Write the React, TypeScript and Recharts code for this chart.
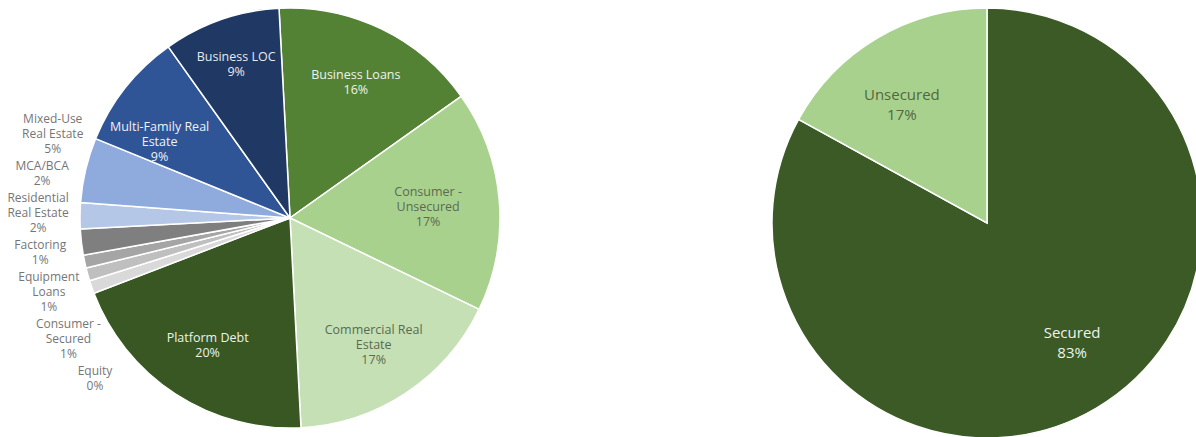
import React from 'react';
import { PieChart, Pie, Cell } from 'recharts';

// clockwise from 12 o'clock
const categories = [
  'Business Loans',
  'Consumer - Unsecured',
  'Commercial Real Estate',
  'Platform Debt',
  'Equity',
  'Consumer - Secured',
  'Equipment Loans',
  'Factoring',
  'Residential Real Estate',
  'MCA/BCA',
  'Mixed-Use Real Estate',
  'Multi-Family Real Estate',
  'Business LOC',
];
const shares = [16, 17, 17, 20, 0, 1, 1, 1, 2, 2, 5, 9, 9];
const labelLines = [
  ['Business Loans'],
  ['Consumer -', 'Unsecured'],
  ['Commercial Real', 'Estate'],
  ['Platform Debt'],
  ['Equity'],
  ['Consumer -', 'Secured'],
  ['Equipment', 'Loans'],
  ['Factoring'],
  ['Residential', 'Real Estate'],
  ['MCA/BCA'],
  ['Mixed-Use', 'Real Estate'],
  ['Multi-Family Real', 'Estate'],
  ['Business LOC'],
];

const securityTypes = ['Secured', 'Unsecured'];
const securityShares = [83, 17];

const mixColors = [
  '#548235', '#a9d18e', '#c5e0b4', '#385723',
  '#ededed', '#d9d9d9', '#bfbfbf', '#a5a5a5', '#7f7f7f',
  '#b4c7e7', '#8faadc', '#2f5597', '#1f3864',
];
const mixText = [
  '#eef3ea', '#5a6b52', '#5a6b52', '#eef3ea',
  '', '', '', '', '', '', '', '#eef1f6', '#e6eaf2',
];
const securityColors = ['#3b5a25', '#a9d18e'];
const securityText = ['#eef3ea', '#50683f'];

const FONT = '"Open Sans", Lato, sans-serif';
const RAD = Math.PI / 180;
const LH = 15;

const mixData = categories.map((name, i) => ({ name, value: shares[i] }));
const securityData = securityTypes.map((name, i) => ({ name, value: securityShares[i] }));

// label placement tweaks (radius fraction, angle shift in degrees)
const insideTweak: Record<number, { r?: number; da?: number }> = {
  1: { r: 0.66 },
  11: { da: 8 },
  12: { r: 0.78 },
};

// small slices (Equity .. Mixed-Use) get labels stacked outside on the left
const FIRST_OUT = 4;
const LAST_OUT = 10;

function outsideY(cy: number, outerRadius: number, index: number) {
  let y = cy + outerRadius * 1.2 * Math.sin(39.3 * RAD);
  for (let i = FIRST_OUT + 1; i <= index; i++) {
    const prev = labelLines[i - 1].length + 1;
    const cur = labelLines[i].length + 1;
    y -= ((prev + cur) * LH) / 2 + 2;
  }
  return y;
}

function MultiLine({ x, y, lines, fill, size, lh }: { x: number; y: number; lines: string[]; fill: string; size: number; lh: number }) {
  const top = y - ((lines.length - 1) * lh) / 2;
  return (
    <text x={x} y={top} fill={fill} fontSize={size} fontFamily={FONT} textAnchor="middle" dominantBaseline="central">
      {lines.map((t, i) => (
        <tspan key={i} x={x} y={top + i * lh}>
          {t}
        </tspan>
      ))}
    </text>
  );
}

const renderMixLabel = (p: any) => {
  const { cx, cy, midAngle, outerRadius, index } = p;
  const lines = [...labelLines[index], `${shares[index]}%`];
  if (index >= FIRST_OUT && index <= LAST_OUT) {
    const R = outerRadius * 1.2;
    const y = outsideY(cy, outerRadius, index);
    const dy = Math.min(Math.abs(y - cy), R - 1);
    const x = cx - Math.sqrt(R * R - dy * dy);
    return <MultiLine key={index} x={x} y={y} lines={lines} fill="#767676" size={12} lh={LH} />;
  }
  const tw = insideTweak[index] || {};
  const a = (midAngle + (tw.da || 0)) * RAD;
  const r = outerRadius * (tw.r || 0.72);
  const x = cx + r * Math.cos(-a);
  const y = cy + r * Math.sin(-a);
  return <MultiLine key={index} x={x} y={y} lines={lines} fill={mixText[index]} size={12.5} lh={LH} />;
};

const renderSecurityLabel = (p: any) => {
  const { cx, cy, midAngle, outerRadius, index } = p;
  const a = (midAngle + 5) * RAD;
  const r = outerRadius * 0.68;
  const x = cx + r * Math.cos(-a);
  const y = cy + r * Math.sin(-a);
  return (
    <MultiLine
      key={index}
      x={x}
      y={y}
      lines={[securityTypes[index], `${securityShares[index]}%`]}
      fill={securityText[index]}
      size={15}
      lh={20}
    />
  );
};

export default function App() {
  return (
    <div style={{ position: 'absolute', left: 0, top: 0, background: '#fff' }}>
      <PieChart width={1196} height={437} margin={{ top: 0, right: 0, bottom: 0, left: 0 }}>
        <Pie
          data={mixData}
          dataKey="value"
          nameKey="name"
          cx={290}
          cy={218}
          outerRadius={210}
          startAngle={93}
          endAngle={-267}
          stroke="#ffffff"
          strokeWidth={1.5}
          label={renderMixLabel}
          labelLine={false}
          isAnimationActive={false}
        >
          {mixData.map((d, i) => (
            <Cell key={d.name} fill={mixColors[i]} />
          ))}
        </Pie>
        <Pie
          data={securityData}
          dataKey="value"
          nameKey="name"
          cx={987}
          cy={223}
          outerRadius={215}
          startAngle={90}
          endAngle={-270}
          stroke="#ffffff"
          strokeWidth={1.5}
          label={renderSecurityLabel}
          labelLine={false}
          isAnimationActive={false}
        >
          {securityData.map((d, i) => (
            <Cell key={d.name} fill={securityColors[i]} />
          ))}
        </Pie>
      </PieChart>
    </div>
  );
}
